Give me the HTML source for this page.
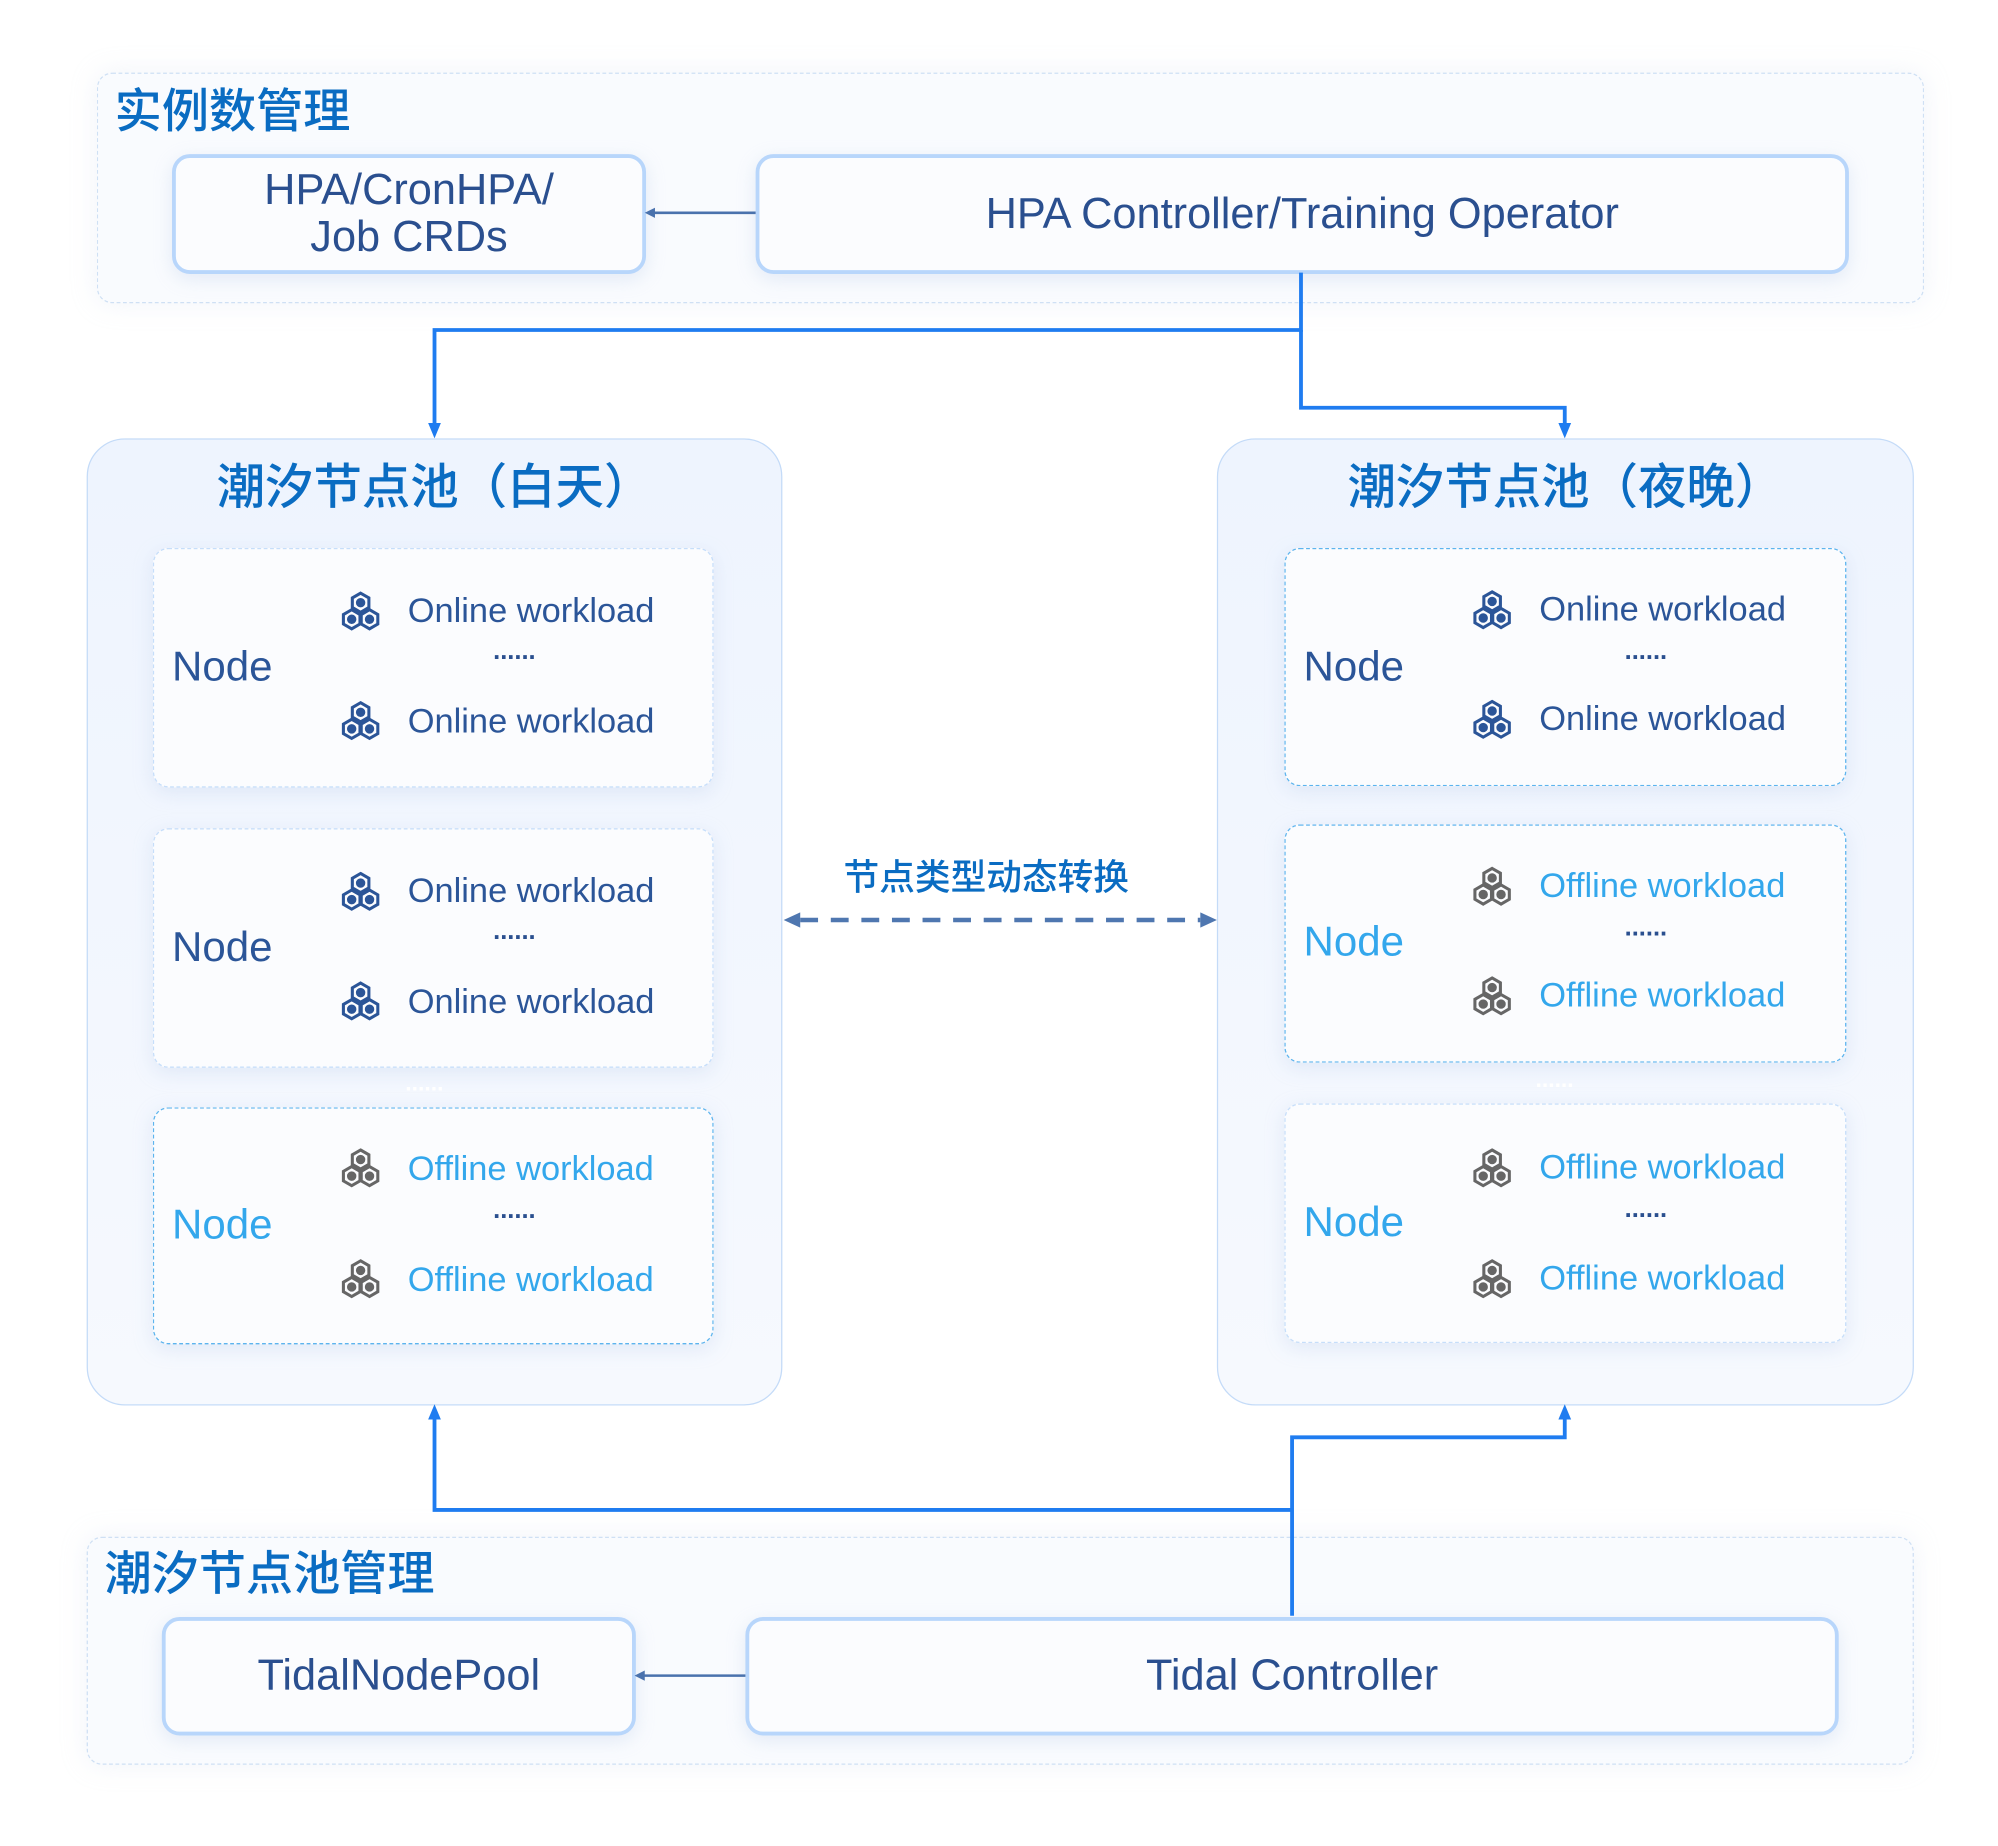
<!DOCTYPE html>
<html><head><meta charset="utf-8">
<style>
html,body{margin:0;padding:0;background:#fff;}
body{width:1998px;height:1846px;overflow:hidden;position:relative;font-family:"Liberation Sans","Noto Sans CJK SC",sans-serif;}
#w{position:absolute;left:0;top:0;width:1568px;height:1449px;transform:scale(1.27423);transform-origin:0 0;}
.a{position:absolute;box-sizing:border-box;}
.grp{border:1.5px dashed #cfe0f4;border-radius:12px;background:#f9fbfe;box-shadow:0 0 20px rgba(200,210,230,.25);}
.gt{position:absolute;color:#0a6cc2;font-size:37px;font-weight:500;white-space:nowrap;line-height:1;}
.bx{border:3px solid #b8d6fb;border-radius:14px;background:#fbfcfe;color:#2a4f8f;font-size:34px;display:flex;align-items:center;justify-content:center;text-align:center;line-height:37px;box-shadow:0 4px 14px rgba(180,200,230,.3);}
.pool{border:1.5px solid #c4dbf8;border-radius:30px;background:linear-gradient(180deg,#eef4fe,#f3f7fe 60%,#f6f9fe);}
.pt{position:absolute;width:100%;text-align:center;top:19px;color:#0a6cc2;font-size:38px;font-weight:500;line-height:1;}
.node{border:1.5px dashed #c6defa;border-radius:12px;background:#fbfcfe;box-shadow:0 4px 14px rgba(190,205,235,.35);}
.node.off{border-color:#5cb4ee;}
.nl{position:absolute;left:14px;font-size:33px;line-height:1;}
.wl{position:absolute;left:199px;font-size:27px;line-height:1;white-space:nowrap;}
.ic{position:absolute;left:146px;width:32px;height:34px;}
.dots{position:absolute;left:266px;font-size:20px;letter-spacing:0;line-height:1;color:#2a4f8f;font-weight:bold;}
.on .nl,.on .wl{color:#2b5598;}
.off .nl,.off .wl{color:#33a7ec;}
</style></head><body>
<svg width="0" height="0" style="position:absolute">
<defs>
<g id="hx"><polygon points="0,-7.5 6.5,-3.75 6.5,3.75 0,7.5 -6.5,3.75 -6.5,-3.75" fill="none" stroke-width="2.4"/><circle r="3.2"/></g>
<g id="ic"><use href="#hx" x="16" y="9"/><use href="#hx" x="9" y="22"/><use href="#hx" x="23" y="22"/></g>
</defs></svg>
<div id="w">
<div class="a grp" style="left:76px;top:57px;width:1434px;height:181px;"></div>
<div class="gt" style="left:90px;top:69px;">实例数管理</div>
<div class="a bx" style="left:135px;top:121px;width:372px;height:94px;">HPA/CronHPA/<br>Job CRDs</div>
<div class="a bx" style="left:593px;top:121px;width:858px;height:94px;">HPA Controller/Training Operator</div>

<div class="a pool" style="left:68px;top:344px;width:546px;height:759px;"><div class="pt">潮汐节点池（白天）</div></div>
<div class="a pool" style="left:955px;top:344px;width:547px;height:759px;"><div class="pt">潮汐节点池（夜晚）</div></div>

<div class="a node on" style="left:120px;top:430px;width:440px;height:188px;">
<div class="nl" style="top:75px">Node</div>
<svg class="ic" style="top:33px" fill="#2b5598" stroke="#2b5598"><use href="#ic"/></svg><div class="wl" style="top:35px">Online workload</div>
<div class="dots" style="top:70px">......</div>
<svg class="ic" style="top:119px" fill="#2b5598" stroke="#2b5598"><use href="#ic"/></svg><div class="wl" style="top:122px">Online workload</div>
</div>
<div class="a node on" style="left:120px;top:650px;width:440px;height:188px;">
<div class="nl" style="top:75px">Node</div>
<svg class="ic" style="top:33px" fill="#2b5598" stroke="#2b5598"><use href="#ic"/></svg><div class="wl" style="top:35px">Online workload</div>
<div class="dots" style="top:70px">......</div>
<svg class="ic" style="top:119px" fill="#2b5598" stroke="#2b5598"><use href="#ic"/></svg><div class="wl" style="top:122px">Online workload</div>
</div>
<div class="a" style="left:318px;top:840px;color:#fff;font-size:18px;font-weight:bold;">......</div>
<div class="a node off" style="left:120px;top:869px;width:440px;height:186px;">
<div class="nl" style="top:74px">Node</div>
<svg class="ic" style="top:31px" fill="#666" stroke="#666"><use href="#ic"/></svg><div class="wl" style="top:34px">Offline workload</div>
<div class="dots" style="top:70px">......</div>
<svg class="ic" style="top:118px" fill="#666" stroke="#666"><use href="#ic"/></svg><div class="wl" style="top:121px">Offline workload</div>
</div>

<div class="a node on" style="left:1008px;top:430px;width:441px;height:187px;border-color:#5cb4ee;">
<div class="nl" style="top:75px">Node</div>
<svg class="ic" style="top:32px" fill="#2b5598" stroke="#2b5598"><use href="#ic"/></svg><div class="wl" style="top:34px">Online workload</div>
<div class="dots" style="top:70px">......</div>
<svg class="ic" style="top:118px" fill="#2b5598" stroke="#2b5598"><use href="#ic"/></svg><div class="wl" style="top:120px">Online workload</div>
</div>
<div class="a node off" style="left:1008px;top:647px;width:441px;height:187px;">
<div class="nl" style="top:74px">Node</div>
<svg class="ic" style="top:32px" fill="#666" stroke="#666"><use href="#ic"/></svg><div class="wl" style="top:34px">Offline workload</div>
<div class="dots" style="top:70px">......</div>
<svg class="ic" style="top:118px" fill="#666" stroke="#666"><use href="#ic"/></svg><div class="wl" style="top:120px">Offline workload</div>
</div>
<div class="a" style="left:1205px;top:837px;color:#fff;font-size:18px;font-weight:bold;">......</div>
<div class="a node off" style="left:1008px;top:866px;width:441px;height:188px;border-color:#c6defa;">
<div class="nl" style="top:75px">Node</div>
<svg class="ic" style="top:34px" fill="#666" stroke="#666"><use href="#ic"/></svg><div class="wl" style="top:36px">Offline workload</div>
<div class="dots" style="top:72px">......</div>
<svg class="ic" style="top:121px" fill="#666" stroke="#666"><use href="#ic"/></svg><div class="wl" style="top:123px">Offline workload</div>
</div>

<div class="a" style="left:662px;top:675px;color:#0a6cc2;font-size:28px;font-weight:500;white-space:nowrap;line-height:1;">节点类型动态转换</div>

<div class="a grp" style="left:68px;top:1206px;width:1434px;height:179px;"></div>
<div class="gt" style="left:82px;top:1217px;">潮汐节点池管理</div>
<div class="a bx" style="left:127px;top:1269px;width:372px;height:93px;">TidalNodePool</div>
<div class="a bx" style="left:585px;top:1269px;width:858px;height:93px;">Tidal Controller</div>

<svg class="a" style="left:0;top:0" width="1568" height="1449">
<g fill="none" stroke="#1f7cf0" stroke-width="3">
<polyline points="1021,214 1021,259 341,259 341,334"/>
<polyline points="1021,259 1021,320 1228,320 1228,334"/>
<polyline points="1014,1268 1014,1128 1228,1128 1228,1112"/>
<polyline points="1014,1185 341,1185 341,1112"/>
</g>
<g fill="#1f7cf0">
<polygon points="336,332 346,332 341,344"/>
<polygon points="1223,332 1233,332 1228,344"/>
<polygon points="336,1114 346,1114 341,1102"/>
<polygon points="1223,1114 1233,1114 1228,1102"/>
</g>
<g stroke="#4a72ad" stroke-width="2">
<line x1="593" y1="167" x2="512" y2="167"/>
<line x1="585" y1="1315" x2="504" y2="1315"/>
</g>
<g fill="#4a72ad">
<polygon points="506,167 514,163 514,171"/>
<polygon points="498,1315 506,1311 506,1319"/>
</g>
<line x1="628" y1="722" x2="942" y2="722" stroke="#4f77b0" stroke-width="3.5" stroke-dasharray="14,10"/>
<polygon points="615,722 628,716 628,728" fill="#4f77b0"/>
<polygon points="955,722 942,716 942,728" fill="#4f77b0"/>
</svg>
</div>
</body></html>
